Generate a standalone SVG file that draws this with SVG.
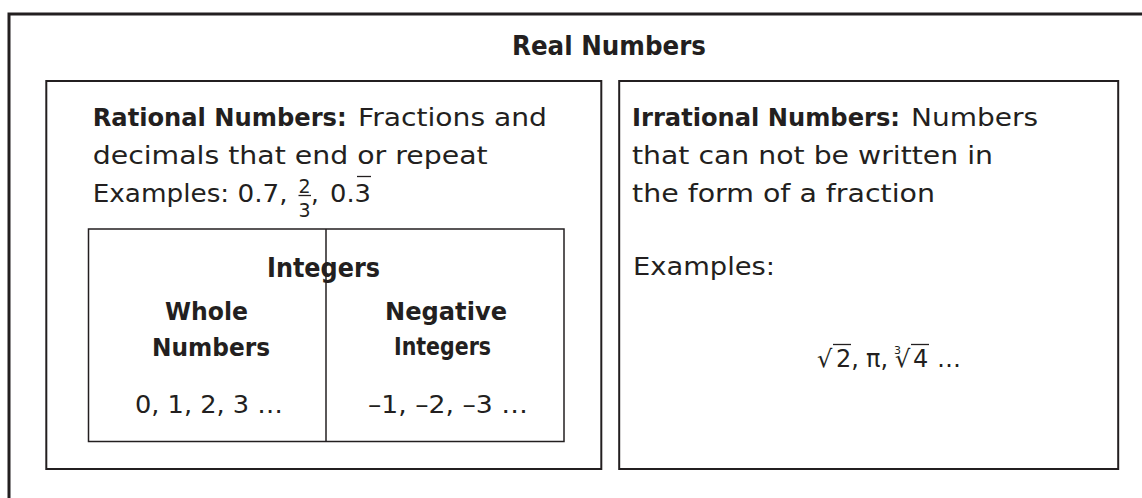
<svg xmlns="http://www.w3.org/2000/svg" width="1142" height="498" viewBox="0 0 1142 498">
<style>
.t{font-family:"DejaVu Sans","Liberation Sans",sans-serif;fill:#231f20}
.b{font-weight:bold}
.box{fill:none;stroke:#231f20}
</style>
<rect width="1142" height="498" fill="#fff"/>
<g id="real-numbers">
<rect class="box" x="9" y="14" width="1200" height="600" stroke-width="3"/>
<text class="t b" x="512" y="55" font-size="27" textLength="194" lengthAdjust="spacingAndGlyphs">Real Numbers</text>
</g>
<g id="rational-numbers">
<rect class="box" x="46.3" y="81" width="555" height="388" stroke-width="2"/>
<text class="t b" x="92.7" y="126" font-size="24.5" textLength="254" lengthAdjust="spacingAndGlyphs">Rational Numbers:</text>
<text class="t" x="358" y="126" font-size="24.5" textLength="189" lengthAdjust="spacingAndGlyphs">Fractions and</text>
<text class="t" x="92.7" y="164" font-size="24.5" textLength="395" lengthAdjust="spacingAndGlyphs">decimals that end or repeat</text>
<text class="t" x="92.7" y="202" font-size="24.5" textLength="195" lengthAdjust="spacingAndGlyphs">Examples: 0.7,</text>
<text class="t" x="304.5" y="193" font-size="19" text-anchor="middle">2</text>
<line x1="298.5" y1="195.5" x2="311" y2="195.5" stroke="#231f20" stroke-width="1.3"/>
<text class="t" x="304.5" y="217" font-size="19" text-anchor="middle">3</text>
<text class="t" x="311" y="202" font-size="24.5">,</text>
<text class="t" x="330" y="202" font-size="24.5" textLength="41" lengthAdjust="spacingAndGlyphs">0.3</text>
<line x1="357" y1="176.5" x2="371" y2="176.5" stroke="#231f20" stroke-width="1.3"/>
</g>
<g id="integers">
<rect class="box" x="88.5" y="229" width="475.5" height="212.5" stroke-width="1.5"/>
<line x1="326" y1="229" x2="326" y2="441.5" stroke="#231f20" stroke-width="1.5"/>
<text class="t b" x="267" y="276.5" font-size="26.5" textLength="113" lengthAdjust="spacingAndGlyphs">Integers</text>
</g>
<g id="whole-numbers">
<text class="t b" x="165" y="320" font-size="24.5" textLength="83" lengthAdjust="spacingAndGlyphs">Whole</text>
<text class="t b" x="152" y="356" font-size="24.5" textLength="118" lengthAdjust="spacingAndGlyphs">Numbers</text>
<text class="t" x="135" y="413" font-size="25" textLength="148" lengthAdjust="spacingAndGlyphs">0, 1, 2, 3 …</text>
</g>
<g id="negative-integers">
<text class="t b" x="385" y="320" font-size="24.5" textLength="122" lengthAdjust="spacingAndGlyphs">Negative</text>
<text class="t b" x="394" y="355" font-size="24.5" textLength="97" lengthAdjust="spacingAndGlyphs">Integers</text>
<text class="t" x="368" y="413" font-size="25" textLength="160" lengthAdjust="spacingAndGlyphs">–1, –2, –3 …</text>
</g>
<g id="irrational-numbers">
<rect class="box" x="619.2" y="81" width="499" height="388" stroke-width="2"/>
<text class="t b" x="632" y="126" font-size="24.5" textLength="268" lengthAdjust="spacingAndGlyphs">Irrational Numbers:</text>
<text class="t" x="911" y="126" font-size="24.5" textLength="127" lengthAdjust="spacingAndGlyphs">Numbers</text>
<text class="t" x="632" y="164" font-size="24.5" textLength="361" lengthAdjust="spacingAndGlyphs">that can not be written in</text>
<text class="t" x="632" y="202" font-size="24.5" textLength="303" lengthAdjust="spacingAndGlyphs">the form of a fraction</text>
<text class="t" x="633" y="275" font-size="24.5" textLength="142" lengthAdjust="spacingAndGlyphs">Examples:</text>
<text class="t" x="817" y="367" font-size="24">√</text>
<line x1="833" y1="344.5" x2="851" y2="344.5" stroke="#231f20" stroke-width="1.3"/>
<text class="t" x="836" y="367" font-size="24">2,</text>
<text class="t" x="866" y="367" font-size="24">π,</text>
<text class="t" x="894" y="354" font-size="11">3</text>
<text class="t" x="895" y="367" font-size="24">√</text>
<line x1="911" y1="344.5" x2="929" y2="344.5" stroke="#231f20" stroke-width="1.3"/>
<text class="t" x="913" y="367" font-size="24">4</text>
<text class="t" x="937" y="367" font-size="24">…</text>
</g>
</svg>
